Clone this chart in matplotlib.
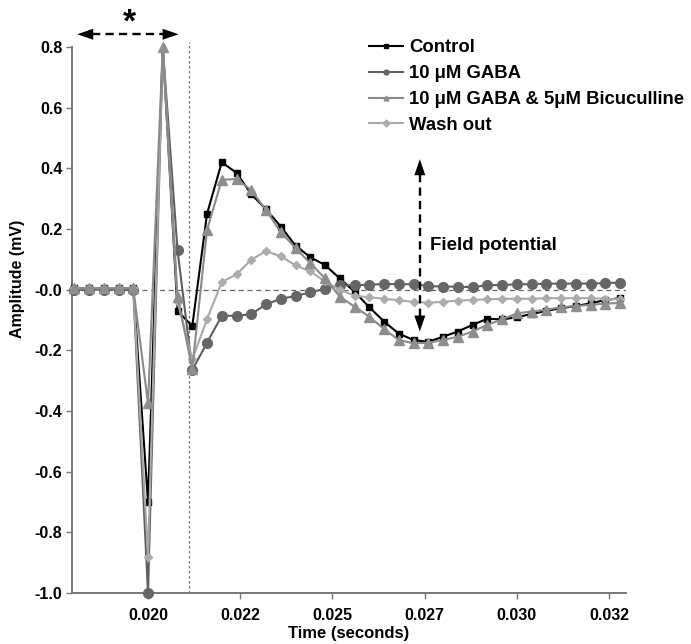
import matplotlib
matplotlib.use("Agg")
import matplotlib.pyplot as plt
import numpy as np

plt.rcParams['font.family'] = ['Liberation Sans', 'DejaVu Sans']
plt.rcParams['font.weight'] = 'bold'

# time axis: samples every 0.4 ms from 18.0 ms to 32.8 ms
time_s = [0.0180 + 0.0004 * i for i in range(38)]

control = [0.005, 0.005, 0.005, 0.005, 0.005,
           -0.70, 0.80, -0.07, -0.12, 0.25, 0.42, 0.385, 0.315, 0.265, 0.208,
           0.145, 0.107, 0.081, 0.037, -0.007, -0.058, -0.105, -0.145, -0.166, -0.172,
           -0.155, -0.138, -0.116, -0.096, -0.098, -0.091, -0.08, -0.07, -0.061, -0.054,
           -0.045, -0.034, -0.028]
gaba = [0.0, 0.0, 0.0, 0.0, 0.0,
        -1.0, 0.80, 0.13, -0.265, -0.175, -0.086, -0.086, -0.081, -0.048, -0.03,
        -0.021, -0.009, 0.003, 0.014, 0.015, 0.016, 0.019, 0.018, 0.018, 0.012,
        0.01, 0.01, 0.008, 0.015, 0.015, 0.018, 0.018, 0.02, 0.02, 0.02,
        0.02, 0.022, 0.023]
gaba_bic = [0.005, 0.005, 0.005, 0.005, 0.005,
            -0.375, 0.80, -0.023, -0.26, 0.197, 0.362, 0.365, 0.328, 0.262, 0.19,
            0.137, 0.087, 0.037, -0.023, -0.056, -0.089, -0.13, -0.166, -0.177, -0.175,
            -0.166, -0.155, -0.138, -0.116, -0.098, -0.078, -0.072, -0.066, -0.058, -0.054,
            -0.05, -0.046, -0.044]
washout = [0.005, 0.005, 0.005, 0.005, 0.005,
           -0.88, 0.80, -0.04, -0.23, -0.097, 0.025, 0.05, 0.099, 0.127, 0.11,
           0.08, 0.06, 0.027, 0.0, -0.02, -0.025, -0.03, -0.035, -0.04, -0.043,
           -0.04, -0.036, -0.034, -0.032, -0.03, -0.03, -0.03, -0.028, -0.028, -0.028,
           -0.028, -0.03, -0.032]

labels = ['Control', '10 μM GABA', '10 μM GABA & 5μM Bicuculline', 'Wash out']
xtick_vals = [0.020, 0.0225, 0.025, 0.0275, 0.030, 0.0325]
xtick_labels = ['0.020', '0.022', '0.025', '0.027', '0.030', '0.032']
ytick_vals = [0.8, 0.6, 0.4, 0.2, 0.0, -0.2, -0.4, -0.6, -0.8, -1.0]
ytick_labels = ['0.8', '0.6', '0.4', '0.2', '-0.0', '-0.2', '-0.4', '-0.6', '-0.8', '-1.0']

W, H = 691, 644
fig = plt.figure(figsize=(W / 100, H / 100), dpi=100)
ax_l, ax_r, ax_t, ax_b = 72, 626, 47, 593
ax = fig.add_axes([ax_l / W, 1 - ax_b / H, (ax_r - ax_l) / W, (ax_b - ax_t) / H])

x0, x1 = 0.017939, 0.03296
ax.set_xlim(x0, x1)
ax.set_ylim(-1.0, 0.8)

# index of the stimulus peak sample, where only the top marker is visible
peak = 6
all_idx = list(range(len(time_s)))
no_peak = [i for i in all_idx if i != peak]

styles = [
    dict(color='#000000', marker='s', ms=5, mfc='#000000', mec='#000000', zorder=3, markevery=no_peak),
    dict(color='#5e5e5e', marker='o', ms=7, mfc='#666666', mec='#666666', zorder=4, markevery=no_peak),
    dict(color='#8a8a8a', marker='^', ms=6.5, mfc='#8e8e8e', mec='#8e8e8e', zorder=6, markevery=all_idx),
    dict(color='#a8a8a8', marker='D', ms=4.5, mfc='#acacac', mec='#acacac', zorder=5, markevery=no_peak),
]
series = [control, gaba, gaba_bic, washout]
handles = []
for vals, st, lab in zip(series, styles, labels):
    h, = ax.plot(time_s, vals, lw=1.5, label=lab, clip_on=False, **st)
    handles.append(h)

# reference lines
ax.axhline(0, color='#666666', lw=0.9, ls=(0, (4, 3)), zorder=1)
ax.plot([0.02111, 0.02111], [-1.0, 0.815], color='#777777', lw=0.9, ls=(0, (2, 2)), zorder=1, clip_on=False)


def dashed_double_arrow(p0, p1, head_px=16, width_px=11):
    """Dashed shaft with two solid filled heads, endpoints in data coords."""
    to_px = ax.transData.transform
    to_data = ax.transData.inverted().transform
    a = np.array(to_px(p0))
    b = np.array(to_px(p1))
    d = (b - a) / np.linalg.norm(b - a)
    n = np.array([-d[1], d[0]])
    sa = to_data(a + d * head_px * 0.9)
    sb = to_data(b - d * head_px * 0.9)
    ax.plot([sa[0], sb[0]], [sa[1], sb[1]], color='black', lw=1.7,
            ls=(0, (3.5, 2.2)), clip_on=False, zorder=7)
    for tip, back in ((a, a + d * head_px), (b, b - d * head_px)):
        pts = [tip, back + n * width_px / 2, back - n * width_px / 2]
        pts = [to_data(p) for p in pts]
        ax.fill([p[0] for p in pts], [p[1] for p in pts], color='black',
                clip_on=False, zorder=7, lw=0)


fig.canvas.draw()
# stimulus artifact arrow with asterisk
dashed_double_arrow((0.01808, 0.842), (0.02083, 0.842))
ax.text(0.01950, 0.878, '*', ha='center', va='center', fontsize=24, fontweight='bold')

# field potential arrow
dashed_double_arrow((0.02737, 0.43), (0.02737, -0.138))
ax.text(0.02765, 0.147, 'Field potential', ha='left', va='center', fontsize=13.5, fontweight='bold')

ax.set_xticks(xtick_vals)
ax.set_xticklabels(xtick_labels)
ax.set_yticks(ytick_vals)
ax.set_yticklabels(ytick_labels)
ax.tick_params(axis='both', direction='out', length=4, width=1, color='#777777', labelsize=11.5, pad=3)
for lbl in ax.get_xticklabels() + ax.get_yticklabels():
    lbl.set_fontweight('bold')
ax.tick_params(axis='x', pad=7)

for s in ['top', 'right']:
    ax.spines[s].set_visible(False)
for s in ['left', 'bottom']:
    ax.spines[s].set_color('#777777')
    ax.spines[s].set_linewidth(1.4)

ax.set_xlabel('Time (seconds)', fontsize=12, fontweight='bold', labelpad=2)
ax.set_ylabel('Amplitude (mV)', fontsize=11.5, fontweight='bold')
ax.yaxis.set_label_coords(-0.085, (593 - 279) / 546)

leg = ax.legend(handles=handles, loc='upper left', bbox_to_anchor=(360 / W, 1 - 30 / H),
                bbox_transform=fig.transFigure, frameon=False, fontsize=13.3, numpoints=1,
                handlelength=1.85, handletextpad=0.3, labelspacing=0.48, borderpad=0)
for t in leg.get_texts():
    t.set_fontweight('bold')
for lh in leg.get_lines():
    lh.set_markersize(3.5)
    lh.set_markevery([1])

fig.savefig('out.png', dpi=100)
